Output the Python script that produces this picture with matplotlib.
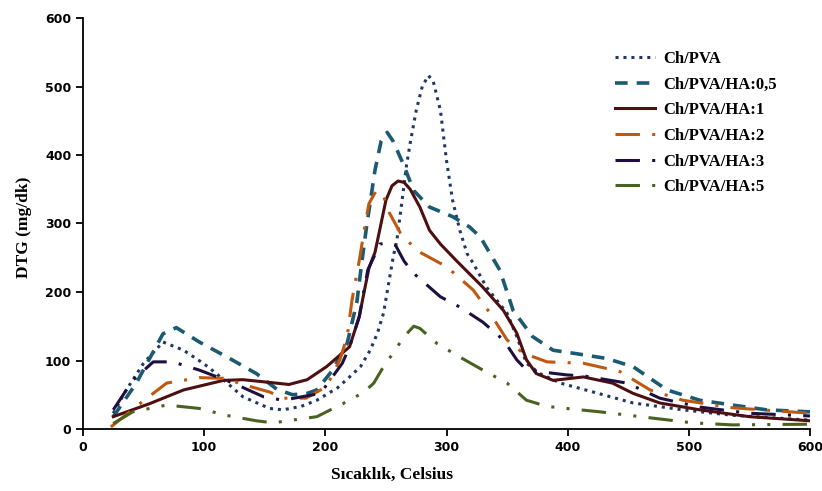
import matplotlib
matplotlib.use("Agg")
import matplotlib.pyplot as plt

# ---- data ----
x_pva = [25, 35, 50, 66, 83, 100, 110, 132, 154, 165, 180, 193, 210, 220, 229, 237, 243, 248, 252, 256, 259, 263, 267, 270, 275, 280, 285, 289, 295, 300, 305, 311, 317, 322, 333, 350, 358, 366, 377, 394, 421, 454, 495, 536, 600]
y_pva = [23, 55, 96, 127, 115, 95, 81, 47, 30, 28, 33, 42, 60, 76, 91, 115, 140, 169, 210, 251, 275, 329, 385, 417, 465, 500, 516, 508, 465, 392, 334, 290, 256, 242, 207, 169, 135, 96, 81, 67, 54, 38, 28, 20, 13]

x_ha05 = [25, 44, 66, 77, 96, 121, 143, 160, 173, 185, 193, 206, 218, 226, 230, 234, 241, 246, 251, 256, 264, 273, 286, 305, 319, 328, 336, 344, 355, 371, 388, 407, 432, 454, 482, 509, 536, 564, 600]
y_ha05 = [18, 67, 139, 148, 127, 103, 81, 58, 50, 52, 57, 86, 125, 185, 242, 295, 378, 420, 433, 420, 388, 348, 324, 310, 295, 280, 256, 232, 173, 135, 115, 110, 103, 91, 57, 42, 35, 28, 25]

x_ha1 = [25, 55, 83, 116, 132, 154, 170, 185, 201, 220, 228, 232, 236, 241, 246, 250, 255, 260, 265, 270, 278, 286, 295, 308, 330, 347, 358, 366, 374, 388, 413, 437, 454, 476, 509, 550, 600]
y_ha1 = [18, 37, 57, 71, 72, 68, 65, 72, 91, 120, 164, 200, 235, 258, 300, 334, 355, 362, 360, 350, 324, 290, 270, 246, 207, 173, 140, 101, 81, 71, 76, 67, 52, 38, 28, 18, 12]

x_ha2 = [23, 44, 69, 96, 116, 138, 154, 165, 184, 201, 212, 218, 222, 228, 233, 236, 242, 248, 253, 262, 270, 275, 300, 322, 336, 350, 363, 383, 413, 443, 468, 495, 536, 600]
y_ha2 = [3, 33, 67, 75, 74, 62, 54, 45, 45, 62, 101, 135, 188, 246, 300, 329, 348, 340, 315, 286, 271, 261, 237, 203, 169, 130, 111, 98, 96, 84, 57, 42, 31, 23]

x_ha3 = [25, 41, 58, 74, 96, 124, 149, 165, 196, 214, 220, 228, 235, 245, 253, 258, 265, 273, 295, 311, 330, 347, 358, 366, 399, 415, 449, 476, 509, 550, 600]
y_ha3 = [28, 71, 98, 98, 86, 67, 47, 42, 52, 96, 120, 164, 232, 270, 272, 268, 245, 227, 193, 178, 156, 130, 101, 86, 79, 77, 67, 45, 32, 23, 19]

x_ha5 = [25, 41, 69, 96, 118, 143, 157, 193, 220, 232, 240, 248, 256, 265, 273, 278, 292, 311, 330, 350, 366, 383, 399, 427, 460, 503, 536, 600]
y_ha5 = [8, 25, 35, 30, 20, 12, 9, 18, 42, 54, 67, 91, 111, 135, 150, 147, 125, 105, 86, 67, 42, 33, 30, 25, 18, 9, 6, 7]

labels = ["Ch/PVA", "Ch/PVA/HA:0,5", "Ch/PVA/HA:1", "Ch/PVA/HA:2", "Ch/PVA/HA:3", "Ch/PVA/HA:5"]
x_ticks = [0, 100, 200, 300, 400, 500, 600]
y_ticks = [0, 100, 200, 300, 400, 500, 600]

fig = plt.figure(figsize=(8.22, 4.91), dpi=100)
ax = fig.add_axes([83/822, 1-429/491, 727/822, 411/491])

ax.plot(x_pva, y_pva, color="#1f3864", lw=2.2, linestyle=(0, (1, 1.6)), label=labels[0])
ax.plot(x_ha05, y_ha05, color="#1b5a70", lw=2.6, linestyle=(0, (3.5, 2.5)), label=labels[1])
ax.plot(x_ha1, y_ha1, color="#4d0f0f", lw=2.2, linestyle="-", label=labels[2])
ax.plot(x_ha2, y_ha2, color="#c0580f", lw=2.2, linestyle=(0, (8, 4, 1, 4)), label=labels[3])
ax.plot(x_ha3, y_ha3, color="#1e0f40", lw=2.2, linestyle=(0, (8, 4, 1, 4)), label=labels[4])
ax.plot(x_ha5, y_ha5, color="#4a6220", lw=2.2, linestyle=(0, (8, 4, 1, 4, 1, 4)), label=labels[5])

ax.set_xlim(0, 600)
ax.set_ylim(0, 600)
ax.set_xticks(x_ticks)
ax.set_yticks(y_ticks)
for s in ["top", "right"]:
    ax.spines[s].set_visible(False)
for s in ["left", "bottom"]:
    ax.spines[s].set_linewidth(1.3)
ax.tick_params(direction="out", length=5, width=1.3, labelsize=9)
for lab in ax.get_xticklabels() + ax.get_yticklabels():
    lab.set_fontweight("bold")
    lab.set_family("DejaVu Sans")

ax.set_xlabel("Sıcaklık, Celsius", fontsize=12.5, fontweight="bold", family="Liberation Serif")
ax.set_ylabel("DTG (mg/dk)", fontsize=12.5, fontweight="bold", family="Liberation Serif")
ax.xaxis.set_label_coords(0.425, -0.092)
ax.yaxis.set_label_coords(-0.07, 0.49)

leg = ax.legend(loc="upper left", bbox_to_anchor=(600/822, 1-36/491), bbox_transform=fig.transFigure,
                frameon=False, handlelength=2.4, handletextpad=0.5, labelspacing=0.58,
                prop={"family": "Liberation Serif", "weight": "bold", "size": 12})

fig.savefig("out.png", dpi=100)
